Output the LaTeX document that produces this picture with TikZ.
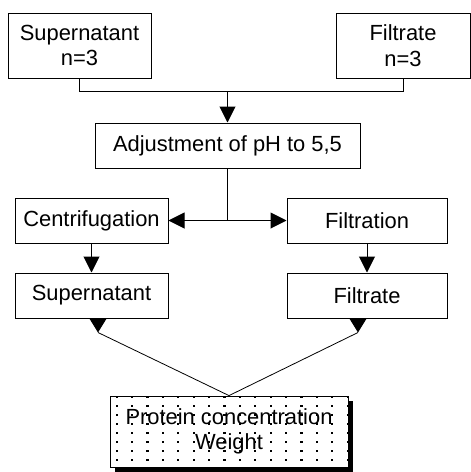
\documentclass[tikz,border=0pt]{standalone}
\usepackage{fontspec}
\setmainfont{Liberation Sans}
\usetikzlibrary{arrows.meta,shadows,calc}
\newcommand{\boxfont}{\fontsize{21.9}{25.5}\selectfont}

\begin{document}
\begin{tikzpicture}[x=1pt,y=-1pt,line width=1pt,
  box/.style={draw,minimum height=45pt,inner sep=0pt,align=center,font=\boxfont},
  arr/.style={-{Triangle[length=16pt,width=16pt]}},
  tip/.style={-{Triangle[length=14pt,width=17pt]}},
  dotbox/.style={drop shadow={shadow xshift=5pt,shadow yshift=-5pt,opacity=1,fill=black},
    fill=white,line width=0.8pt}]
  \useasboundingbox (0,0) rectangle (471,472);
  % ---------- samples ----------
  \node[box,minimum width=143pt,minimum height=65pt] (supA) at (79.5,45.5) {Supernatant\\n=3};
  \node[box,minimum width=134pt,minimum height=65pt] (filA) at (403,45.5) {Filtrate\\n=3};
  \path (supA.south) ++(0,13) coordinate (bend);
  \draw (supA.south) -- (bend) -| (filA.south);
  % ---------- pH ----------
  \node[box,minimum width=265pt] (adj) at (227.5,145.5) {Adjustment of pH to 5,5};
  \draw[arr] (adj.north |- bend) -- (adj.north);
  % ---------- separation ----------
  \node[box,minimum width=153pt] (cen) at (91.5,220.5) {Centrifugation};
  \node[box,minimum width=160pt] (fil) at (367,220.5) {Filtration};
  \coordinate (split) at (adj.south |- cen.east);
  \draw (adj.south) -- (split);
  \draw[arr] (split) -- (cen.east);
  \draw[arr] (split) -- (fil.west);
  \node[box,minimum width=153pt] (supB) at (91.5,295.5) {Supernatant};
  \node[box,minimum width=160pt] (filB) at (367,295.5) {Filtrate};
  \draw[arr] (cen.south) -- (supB.north);
  \draw[arr] (fil.south) -- (filB.north);
  % ---------- analysis ----------
  \node[box,dotbox,minimum width=238pt,minimum height=71pt] (prot) at (229,431.5)
    {Protein concentration\\Weight};
  \begin{scope}
    \clip (prot.north west) rectangle (prot.south east);
    \foreach \i in {0,...,15}
      \foreach \j in {0,...,7}
        \fill ($(prot.north west)+(6+15.4*\i,0+9*\j)$) rectangle ++(2.2,2.2);
  \end{scope}
  \coordinate (tipL) at ($(supB.south)+(6.5,14)$);
  \coordinate (tipR) at ($(filB.south)+(-9,14)$);
  \draw[tip] (supB.south -| tipL) -- (tipL);
  \draw[tip] (filB.south -| tipR) -- (tipR);
  \draw[line width=0.8pt] (prot.north) -- (tipL);
  \draw[line width=0.8pt] (prot.north) -- (tipR);
\end{tikzpicture}
\end{document}
